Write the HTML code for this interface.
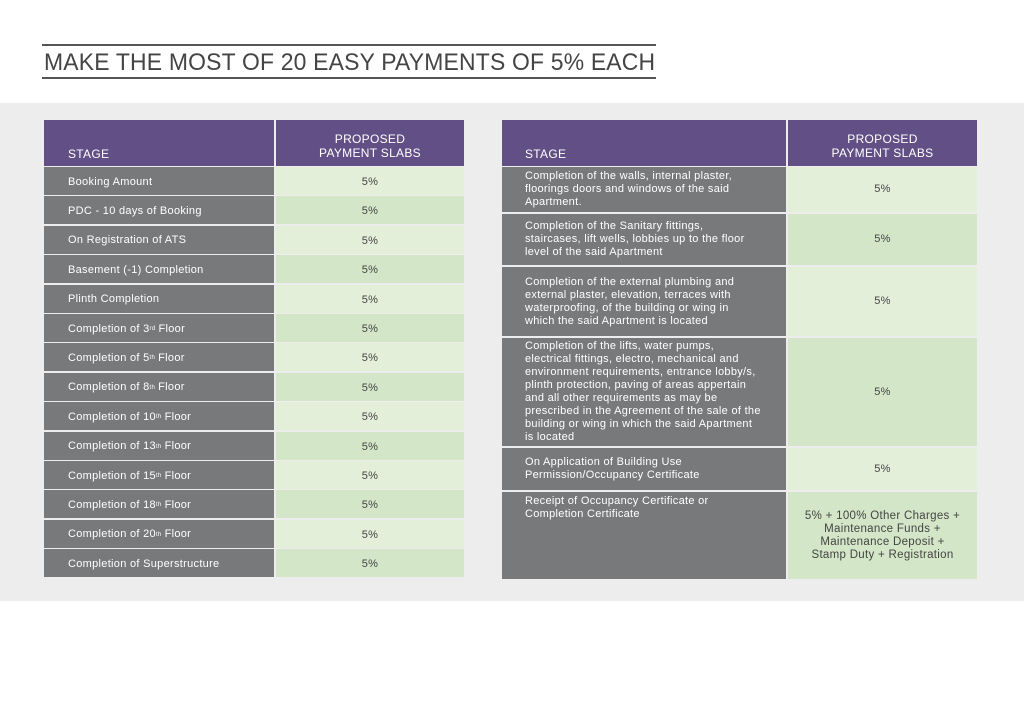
<!DOCTYPE html>
<html><head><meta charset="utf-8"><style>
body{margin:0;width:1024px;height:724px;background:#fff;position:relative;overflow:hidden;font-family:"Liberation Sans",sans-serif}
.band{position:absolute;left:0;top:103px;width:1024px;height:498px;background:#ededed}
.line{position:absolute;left:42px;width:614px;height:2px;background:#555}
.title{position:absolute;left:44px;top:49px;font-size:24px;color:#444;letter-spacing:0.2px;white-space:nowrap;transform-origin:0 0;transform:scaleX(0.955)}
.c{position:absolute;box-sizing:border-box;font-size:11px;letter-spacing:0.3px;line-height:13px}
.h{background:#614f85;color:#fff;font-size:12px;line-height:14px}
.g{background:#77797b;color:#fff;padding-left:23px;display:flex;align-items:center}
.l{background:#e3efd9;color:#444;text-align:center;display:flex;align-items:center;justify-content:center}
.d{background:#d3e6c7}
sup{font-size:6px;vertical-align:4px;line-height:0;margin-right:3px}
</style></head><body>
<div class="line" style="top:44px"></div>
<div class="title">MAKE THE MOST OF 20 EASY PAYMENTS OF 5% EACH</div>
<div class="line" style="top:77px"></div>
<div class="band"></div>

<div class="c h" style="left:44px;top:120px;width:230px;height:46px;padding:27px 0 0 24px">STAGE</div>
<div class="c h" style="left:276px;top:120px;width:188px;height:46px;padding-top:12px;text-align:center">PROPOSED<br>PAYMENT SLABS</div>

<div class="c h" style="left:502px;top:120px;width:284px;height:46px;padding:27px 0 0 23px">STAGE</div>
<div class="c h" style="left:788px;top:120px;width:189px;height:46px;padding-top:12px;text-align:center">PROPOSED<br>PAYMENT SLABS</div>

<div id="left"></div>
<script>
var rows=["Booking Amount","PDC - 10 days of Booking","On Registration of ATS","Basement (-1) Completion","Plinth Completion","Completion of 3<sup>rd</sup>Floor","Completion of 5<sup>th</sup>Floor","Completion of 8<sup>th</sup>Floor","Completion of 10<sup>th</sup>Floor","Completion of 13<sup>th</sup>Floor","Completion of 15<sup>th</sup>Floor","Completion of 18<sup>th</sup>Floor","Completion of 20<sup>th</sup>Floor","Completion of Superstructure"];
var h="";
for(var i=0;i<rows.length;i++){var t=167+i*29.4;
h+='<div class="c g" style="left:44px;top:'+t+'px;width:230px;height:28px;padding-left:24px;padding-top:2px">'+rows[i]+'</div>';
h+='<div class="c l'+(i%2?' d':'')+'" style="left:276px;top:'+t+'px;width:188px;height:28px;padding-top:3px">5%</div>';}
var R=[[167,212,"Completion of the walls, internal plaster,<br>floorings doors and windows of the said<br>Apartment.","5%"],
[214,265,"Completion of the Sanitary fittings,<br>staircases, lift wells, lobbies up to the floor<br>level of the said Apartment","5%"],
[267,336,"Completion of the external plumbing and<br>external plaster, elevation, terraces with<br>waterproofing, of the building or wing in<br>which the said Apartment is located","5%"],
[338,446,"Completion of the lifts, water pumps,<br>electrical fittings, electro, mechanical and<br>environment requirements, entrance lobby/s,<br>plinth protection, paving of areas appertain<br>and all other requirements as may be<br>prescribed in the Agreement of the sale of the<br>building or wing in which the said Apartment<br>is located","5%"],
[448,490,"On Application of Building Use<br>Permission/Occupancy Certificate","5%"],
[492,579,"Receipt of Occupancy Certificate or<br>Completion Certificate","5% + 100% Other Charges +<br>Maintenance Funds +<br>Maintenance Deposit +<br>Stamp Duty + Registration"]];
for(var j=0;j<R.length;j++){var r=R[j],ht=r[1]-r[0];
var al=j==5?'align-items:flex-start;padding-top:3px;':'';
h+='<div class="c g" style="left:502px;top:'+r[0]+'px;width:284px;height:'+ht+'px;'+al+'">'+r[2]+'</div>';
h+='<div class="c l'+(j%2?' d':'')+'" style="left:788px;top:'+r[0]+'px;width:189px;height:'+ht+'px;'+(j==5?'font-size:11.5px;':'')+'">'+r[3]+'</div>';}
document.getElementById('left').outerHTML=h;
</script>
</body></html>
